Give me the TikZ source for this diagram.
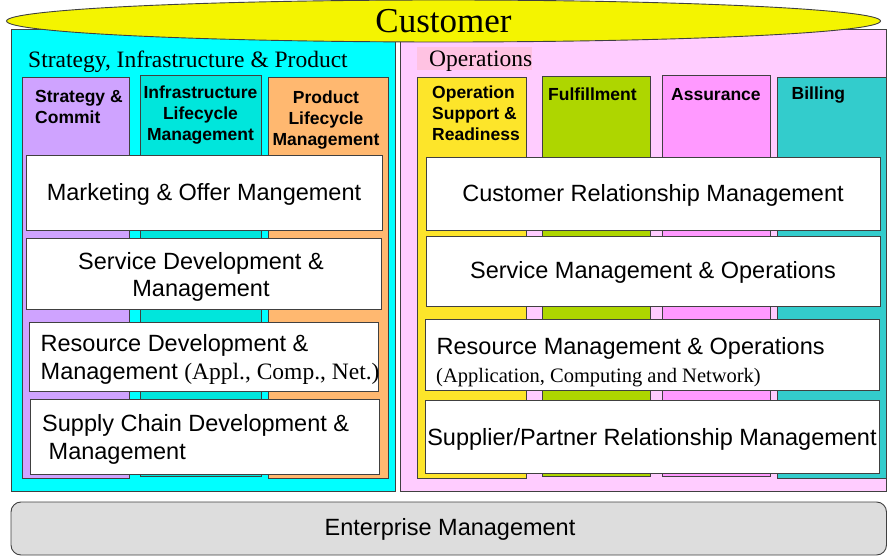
\documentclass[tikz,border=0pt]{standalone}
\usepackage{fontspec}
\setmainfont{Liberation Sans}
\newfontfamily\timesfont{Liberation Serif}
\definecolor{custyellow}{HTML}{F4F400}
\definecolor{sipcyan}{HTML}{00FFFF}
\definecolor{opspink}{HTML}{FFCCFF}
\definecolor{opslabel}{HTML}{FFC2E2}
\definecolor{stratpurple}{HTML}{CFA3FF}
\definecolor{infrateal}{HTML}{00E6DC}
\definecolor{prodorange}{HTML}{FFB870}
\definecolor{osryellow}{HTML}{FDE52A}
\definecolor{fulgreen}{HTML}{AED600}
\definecolor{asspink}{HTML}{FF99FF}
\definecolor{bilteal}{HTML}{33CCCC}
\definecolor{entgray}{HTML}{DDDDDD}
\definecolor{edge}{HTML}{404040}

\begin{document}
\begin{tikzpicture}[x=1pt,y=-1pt,
    panel/.style={draw=edge,line width=0.9pt},
    colbox/.style={draw=edge,line width=0.9pt},
    whitebox/.style={draw=edge,fill=white,line width=0.9pt},
    boxtext/.style={font=\fontsize{23.5}{27.5}\selectfont},
    coltext/.style={font=\bfseries\fontsize{17.5}{21}\selectfont},
    headtext/.style={font=\timesfont\fontsize{23.5}{27}\selectfont}]
  \tikzstyle{every node}+=[inner sep=0pt]
  \useasboundingbox (0,0) rectangle (887,556);

  % the two big panels
  \draw [panel,fill=sipcyan] (11,29) rectangle (395.5,491.5);
  \draw [panel,fill=opspink] (400,29) rectangle (886.5,491.5);

  % customer
  \draw [panel,fill=custyellow] (443.5,21) ellipse (437 and 21);
  \node [anchor=base,font=\timesfont\fontsize{35}{35}\selectfont] (cust) at (443.5,33) {Customer};

  % headings
  \node [headtext,anchor=base west] (siphead) at (28,68) {Strategy, Infrastructure \& Product};
  \fill [opslabel] (417,47) rectangle (532,70);
  \node [headtext,anchor=base west] (opshead) at (429,67) {Operations};

  % vertical columns, left (base = last line)
  \draw [colbox,fill=stratpurple] (22,77) rectangle (129,478);
  \draw [colbox,fill=infrateal] (140,75) rectangle (261,476);
  \draw [colbox,fill=prodorange] (268,77) rectangle (388,478);
  \node [coltext,anchor=base west,align=left] (strat) at (35,123.5) {Strategy \&\\Commit};
  \node [coltext,anchor=base,align=center] (infra) at (200.5,141) {Infrastructure\\Lifecycle\\Management};
  \node [coltext,anchor=base,align=center] (prod) at (326,146) {Product\\Lifecycle\\Management};

  % vertical columns, right
  \draw [colbox,fill=osryellow] (417,77) rectangle (526,478);
  \draw [colbox,fill=fulgreen] (542,76) rectangle (650,476);
  \draw [colbox,fill=asspink] (662,75) rectangle (770,476);
  \draw [colbox,fill=bilteal] (777,77) rectangle (886,478);
  \node [coltext,anchor=base west,align=left] (osr) at (432,140.5) {Operation\\Support \&\\Readiness};
  \node [coltext,anchor=base west] (ful) at (548,101) {Fulfillment};
  \node [coltext,anchor=base west] (ass) at (671,101) {Assurance};
  \node [coltext,anchor=base west] (bil) at (791.5,100) {Billing};

  % horizontal layers, left
  \draw [whitebox] (26,155) rectangle (382,230);
  \node [boxtext,anchor=base] (mkt) at (204,201) {Marketing \& Offer Mangement};
  \draw [whitebox] (26,238) rectangle (381,309);
  \node [boxtext,anchor=base,align=center] (svcdev) at (201,297) {Service Development \&\\Management};
  \draw [whitebox] (29,322) rectangle (378,391);
  \node [boxtext,anchor=base west,align=left] (resdev) at (40.5,379) {Resource Development \&\\Management {\timesfont(Appl., Comp., Net.)}};
  \draw [whitebox] (30,399) rectangle (379,474);
  \node [boxtext,anchor=base west,align=left] (supdev) at (42,459) {Supply Chain Development \&\\\hspace*{6.5pt}Management};

  % horizontal layers, right
  \draw [whitebox] (426,157) rectangle (880,230);
  \node [boxtext,anchor=base] (crm) at (653,201.5) {Customer Relationship Management};
  \draw [whitebox] (426,236) rectangle (880,306);
  \node [boxtext,anchor=base] (smo) at (653,279) {Service Management \& Operations};
  \draw [whitebox] (425,319) rectangle (879,390);
  \node [boxtext,anchor=base west] (rmo) at (436.5,354.5) {Resource Management \& Operations};
  \node [anchor=base west,font=\timesfont\fontsize{20.5}{24}\selectfont] (rmonote) at (436,382.5) {(Application, Computing and Network)};
  \draw [whitebox] (425,400) rectangle (879,473);
  \node [boxtext,anchor=base] (spr) at (652,445.5) {Supplier/Partner Relationship Management};

  % enterprise management
  \draw [panel,fill=entgray,rounded corners=10pt] (11,502) rectangle (886.5,555);
  \node [boxtext,anchor=base] (ent) at (450,535.5) {Enterprise Management};
\end{tikzpicture}
\end{document}
